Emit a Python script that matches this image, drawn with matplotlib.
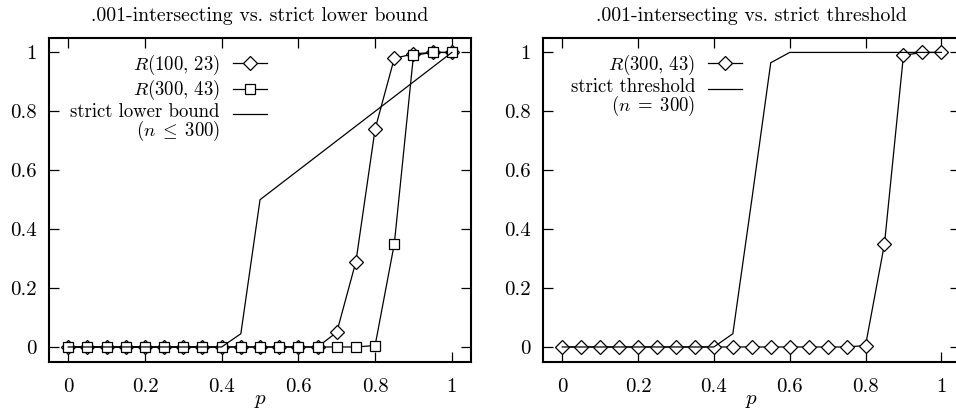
import matplotlib
matplotlib.use("Agg")
import matplotlib.pyplot as plt
import numpy as np
from matplotlib.legend_handler import HandlerLine2D

plt.rcParams["font.family"] = "cmr10"
plt.rcParams["mathtext.fontset"] = "cm"
plt.rcParams["axes.formatter.use_mathtext"] = True

# sampled p values for the simulated series
p = [0.00, 0.05, 0.10, 0.15, 0.20, 0.25, 0.30, 0.35, 0.40, 0.45, 0.50,
     0.55, 0.60, 0.65, 0.70, 0.75, 0.80, 0.85, 0.90, 0.95, 1.00]
r100_23 = [0, 0, 0, 0, 0, 0, 0, 0, 0, 0, 0,
           0, 0, 0, 0.05, 0.29, 0.74, 0.98, 0.995, 1.0, 1.0]
r300_43 = [0, 0, 0, 0, 0, 0, 0, 0, 0, 0, 0,
           0, 0, 0, 0, 0, 0.005, 0.35, 0.99, 1.0, 1.0]

# strict lower bound (n <= 300)
p_lb = [0.00, 0.40, 0.45, 0.50, 1.00]
lower_bound = [0.0, 0.0, 0.045, 0.5, 1.0]

# strict threshold (n = 300)
p_th = [0.00, 0.40, 0.45, 0.50, 0.55, 0.60, 1.00]
threshold = [0.0, 0.0, 0.045, 0.5, 0.965, 1.0, 1.0]

ticks = [0, 0.2, 0.4, 0.6, 0.8, 1.0]
tick_labels = ["0", "0.2", "0.4", "0.6", "0.8", "1"]


class TopLineHandler(HandlerLine2D):
    """Put the key sample on the first line of a two-line label (gnuplot style)."""
    def create_artists(self, legend, orig, xd, yd, w, h, fs, trans):
        arts = super().create_artists(legend, orig, xd, yd, w, h, fs, trans)
        for a in arts:
            a.set_ydata(np.asarray(a.get_ydata()) + 0.5 * fs)
        return arts


def style(ax, title):
    ax.set_xlim(-0.05, 1.05)
    ax.set_ylim(-0.05, 1.05)
    ax.set_xticks(ticks)
    ax.set_xticklabels(tick_labels)
    ax.set_yticks(ticks)
    ax.set_yticklabels(tick_labels)
    ax.tick_params(direction="in", length=7, width=0.9, top=True, right=True,
                   labelsize=15, pad=9)
    ax.tick_params(axis="x", pad=12)
    for s in ax.spines.values():
        s.set_linewidth(1.5)
    ax.set_xlabel(r"$p$", fontsize=15, labelpad=-3)
    ax.set_title(title, fontsize=14.3, pad=12)


def key(ax, handle, anchor):
    leg = ax.legend(loc="upper right", bbox_to_anchor=anchor, frameon=False,
                    markerfirst=False, numpoints=1, fontsize=13.5, handlelength=1.8,
                    handletextpad=0.7, labelspacing=0.05, borderpad=0, borderaxespad=0,
                    handler_map={handle: TopLineHandler()})
    for t in leg.get_texts():
        t.set_multialignment("right")
        t.set_linespacing(0.85)
    return leg


fig = plt.figure(figsize=(9.56, 4.17), dpi=100)
ax1 = fig.add_axes([0.0513, 0.1326, 0.4414, 0.777])
ax2 = fig.add_axes([0.5683, 0.1326, 0.4362, 0.777])

mk = dict(color="black", lw=0.9, mfc="white", mec="black", mew=0.9)

# left panel
ax1.plot(p, r100_23, marker="D", ms=7, label=r"$R(100,\,23)$", **mk)
ax1.plot(p, r300_43, marker="s", ms=7, label=r"$R(300,\,43)$", **mk)
lb, = ax1.plot(p_lb, lower_bound, color="black", lw=0.9,
               label="strict lower bound\n" + r"$(n\;\leq\;300)$")
style(ax1, ".001-intersecting vs. strict lower bound")
key(ax1, lb, (0.516, 0.953))

# right panel
ax2.plot(p, r300_43, marker="D", ms=7, label=r"$R(300,\,43)$", **mk)
th, = ax2.plot(p_th, threshold, color="black", lw=0.9,
               label="strict threshold\n" + r"$(n\;=\;300)$")
style(ax2, ".001-intersecting vs. strict threshold")
key(ax2, th, (0.477, 0.953))

fig.savefig("out.png", dpi=100)
